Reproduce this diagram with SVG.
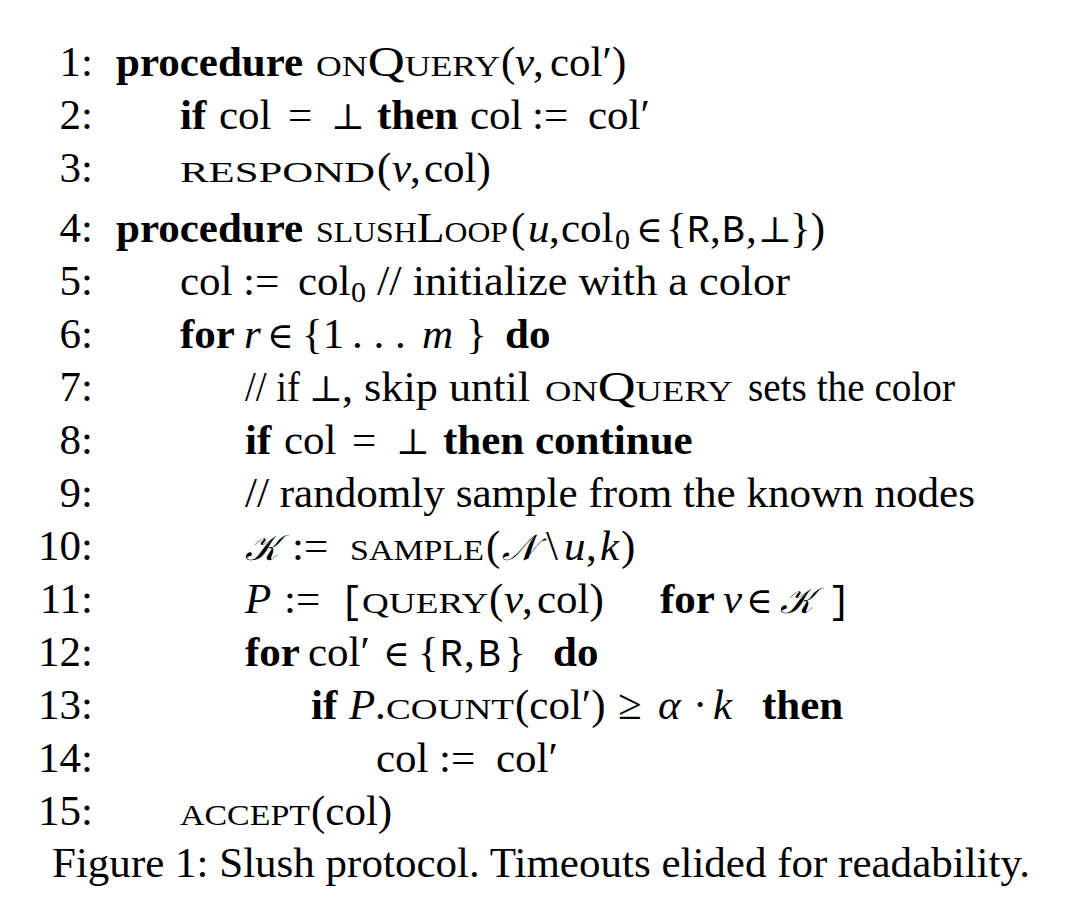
<svg xmlns="http://www.w3.org/2000/svg" width="1068" height="906" viewBox="0 0 1068 906">
<style>
text{font-family:"Liberation Serif","Times New Roman",serif;font-size:43px;fill:#000}
.n{text-anchor:end}
.b{font-weight:bold}
.i{font-style:italic}
.sc{font-variant:small-caps}
.m{font-family:"Liberation Mono","Courier New",monospace;font-size:38px}
.sym{font-family:"DejaVu Serif",serif;font-size:36px}
.cal{font-family:"DejaVu Serif","DejaVu Sans","Noto Sans",serif;font-style:italic;font-size:36px}
.sub{font-size:30px}
</style>
<rect width="1068" height="906" fill="#fff"/>
<g id="line-numbers">
<text class="n" x="93" y="76">1:</text>
<text class="n" x="93" y="129">2:</text>
<text class="n" x="93" y="182">3:</text>
<text class="n" x="93" y="242">4:</text>
<text class="n" x="93" y="295">5:</text>
<text class="n" x="93" y="348">6:</text>
<text class="n" x="93" y="401">7:</text>
<text class="n" x="93" y="454">8:</text>
<text class="n" x="93" y="507">9:</text>
<text class="n" x="93" y="560">10:</text>
<text class="n" x="93" y="613">11:</text>
<text class="n" x="93" y="666">12:</text>
<text class="n" x="93" y="719">13:</text>
<text class="n" x="93" y="772">14:</text>
<text class="n" x="93" y="825">15:</text>
</g>
<g id="line1"><text y="76"><tspan class="b" x="116">procedure</tspan><tspan class="sc" x="316" textLength="184" lengthAdjust="spacingAndGlyphs">onQuery</tspan><tspan x="501">(</tspan><tspan class="i" x="515">v</tspan><tspan x="533">,</tspan><tspan x="550">col′)</tspan></text></g>
<g id="line2"><text y="129"><tspan class="b" x="180">if</tspan><tspan x="219">col</tspan><tspan x="288">=</tspan><tspan class="sym" x="331">⊥</tspan><tspan class="b" x="377">then</tspan><tspan x="470">col</tspan><tspan x="532">:=</tspan><tspan x="588">col′</tspan></text></g>
<g id="line3"><text y="182"><tspan class="sc" x="180" textLength="195" lengthAdjust="spacingAndGlyphs">respond</tspan><tspan x="377">(</tspan><tspan class="i" x="392">v</tspan><tspan x="410">,</tspan><tspan x="424">col)</tspan></text></g>
<g id="line4"><text y="242"><tspan class="b" x="116">procedure</tspan><tspan class="sc" x="316" textLength="192" lengthAdjust="spacingAndGlyphs">slushLoop</tspan><tspan x="511">(</tspan><tspan class="i" x="528">u</tspan><tspan x="549">,</tspan><tspan x="561">col</tspan><tspan class="sub" x="615" dy="7">0</tspan><tspan class="sym" x="636" dy="-7">∈</tspan><tspan x="666">{</tspan><tspan class="m" x="687">R</tspan><tspan x="710">,</tspan><tspan class="m" x="722">B</tspan><tspan x="746">,</tspan><tspan class="sym" x="758">⊥</tspan><tspan x="790">})</tspan></text></g>
<g id="line5"><text y="295"><tspan x="180">col</tspan><tspan x="243">:=</tspan><tspan x="298">col</tspan><tspan class="sub" x="351" dy="7">0</tspan><tspan x="377" dy="-7" textLength="413" lengthAdjust="spacingAndGlyphs">// initialize with a color</tspan></text></g>
<g id="line6"><text y="348"><tspan class="b" x="180">for</tspan><tspan class="i" x="244">r</tspan><tspan class="sym" x="267">∈</tspan><tspan x="302">{1</tspan><tspan x="352">. . .</tspan><tspan class="i" x="422">m</tspan><tspan x="466">}</tspan><tspan class="b" x="505">do</tspan></text></g>
<g id="line7"><text y="401"><tspan x="245" textLength="55" lengthAdjust="spacingAndGlyphs">// if</tspan><tspan class="sym" x="309">⊥</tspan><tspan x="342" textLength="188" lengthAdjust="spacingAndGlyphs">, skip until</tspan><tspan class="sc" x="545" textLength="188" lengthAdjust="spacingAndGlyphs">onQuery</tspan><tspan x="748" textLength="207" lengthAdjust="spacingAndGlyphs">sets the color</tspan></text></g>
<g id="line8"><text y="454"><tspan class="b" x="245">if</tspan><tspan x="284">col</tspan><tspan x="352">=</tspan><tspan class="sym" x="396">⊥</tspan><tspan class="b" x="443">then continue</tspan></text></g>
<g id="line9"><text y="507"><tspan x="245" textLength="730" lengthAdjust="spacingAndGlyphs">// randomly sample from the known nodes</tspan></text></g>
<g id="line10"><text y="560"><tspan class="cal" x="245">𝒦</tspan><tspan x="292">:=</tspan><tspan class="sc" x="350" textLength="134" lengthAdjust="spacingAndGlyphs">sample</tspan><tspan x="486">(</tspan><tspan class="cal" x="502">𝒩</tspan><tspan x="546">\</tspan><tspan class="i" x="564">u</tspan><tspan x="586">,</tspan><tspan class="i" x="600">k</tspan><tspan x="621">)</tspan></text></g>
<g id="line11"><text y="613"><tspan class="i" x="245">P</tspan><tspan x="284">:=</tspan><tspan class="m" x="340">[</tspan><tspan class="sc" x="362" textLength="126" lengthAdjust="spacingAndGlyphs">query</tspan><tspan x="489">(</tspan><tspan class="i" x="504">v</tspan><tspan x="522">,</tspan><tspan x="537">col)</tspan><tspan class="b" x="660">for</tspan><tspan class="i" x="723">v</tspan><tspan class="sym" x="746">∈</tspan><tspan class="cal" x="780">𝒦</tspan><tspan class="m" x="828">]</tspan></text></g>
<g id="line12"><text y="666"><tspan class="b" x="245">for</tspan><tspan x="308">col′</tspan><tspan class="sym" x="383">∈</tspan><tspan x="418">{</tspan><tspan class="m" x="440">R</tspan><tspan x="464">,</tspan><tspan class="m" x="478">B</tspan><tspan x="505">}</tspan><tspan class="b" x="553">do</tspan></text></g>
<g id="line13"><text y="719"><tspan class="b" x="311">if</tspan><tspan class="i" x="349">P</tspan><tspan x="375">.</tspan><tspan class="sc" x="386" textLength="128" lengthAdjust="spacingAndGlyphs">count</tspan><tspan x="515">(col′)</tspan><tspan x="618">≥</tspan><tspan class="i" x="658">α</tspan><tspan x="693">·</tspan><tspan class="i" x="713">k</tspan><tspan class="b" x="762">then</tspan></text></g>
<g id="line14"><text y="772"><tspan x="376">col</tspan><tspan x="439">:=</tspan><tspan x="496">col′</tspan></text></g>
<g id="line15"><text y="825"><tspan class="sc" x="180" textLength="130" lengthAdjust="spacingAndGlyphs">accept</tspan><tspan x="311">(col)</tspan></text></g>
<g id="caption"><text x="52" y="877" textLength="978" lengthAdjust="spacingAndGlyphs">Figure 1: Slush protocol. Timeouts elided for readability.</text></g>
</svg>
